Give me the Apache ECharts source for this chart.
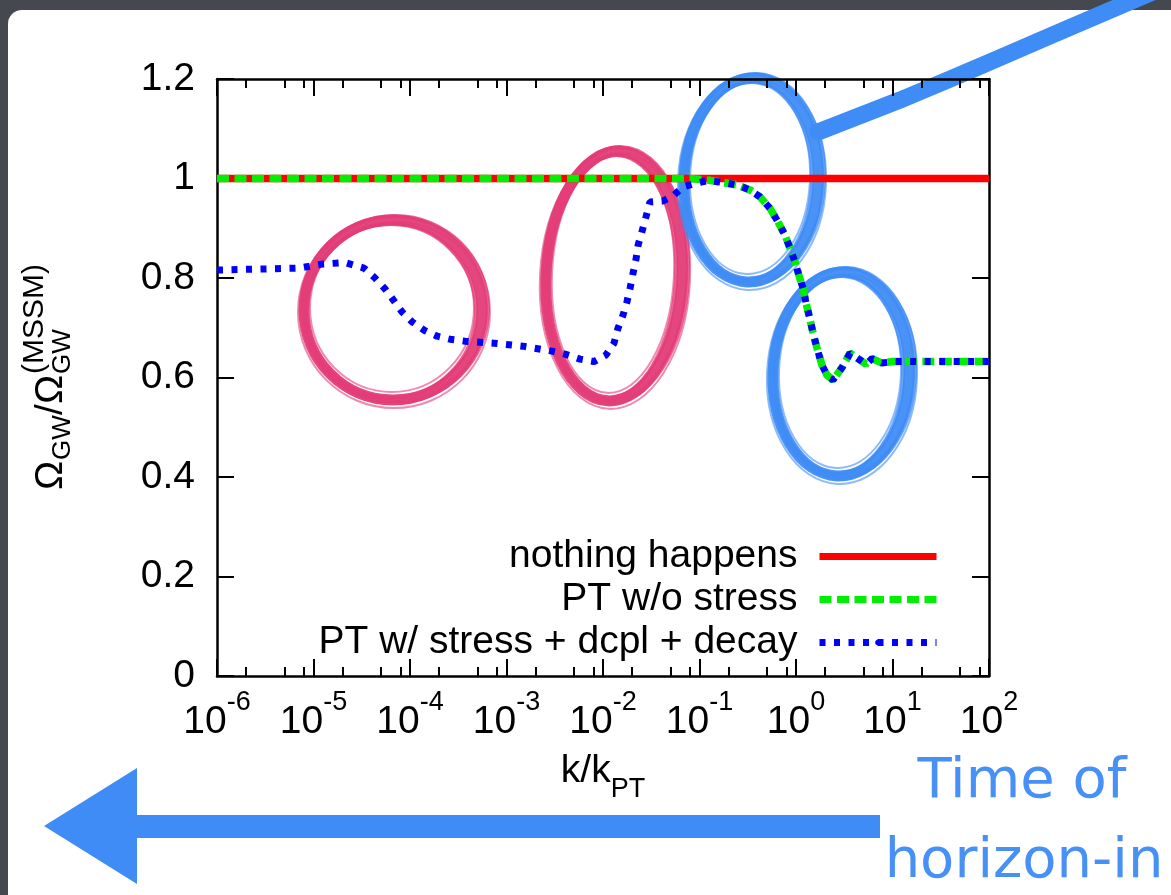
<!DOCTYPE html>
<html>
<head>
<meta charset="utf-8">
<title>Omega_GW / Omega_GW(MSSM) vs k/k_PT</title>
<script src="https://cdn.jsdelivr.net/npm/echarts@6.0.0/dist/echarts.min.js"></script>
<style>
  html, body { margin: 0; padding: 0; background: #45484f; }
  #main { width: 1171px; height: 895px; }
</style>
</head>
<body>
<div id="main"></div>
<script>
var FONT = "'Liberation Sans', Arial, Helvetica, sans-serif";

// k/k_PT and Omega_GW/Omega_GW^(MSSM)
var kRed = [1e-6, 1e2];
var yRed = [1, 1];

var kGreen = [1e-6, 0.08, 0.122, 0.175, 0.245, 0.333, 0.424, 0.538, 0.65, 0.769, 0.867, 0.977,
  1.07, 1.18, 1.27, 1.40, 1.50, 1.65, 1.86, 2.09, 2.42, 3.00, 3.63, 4.39, 5.31, 6.14, 7.78, 10.1, 100];
var yGreen = [1, 1, 0.997, 0.992, 0.987, 0.977, 0.963, 0.94, 0.913, 0.886, 0.86, 0.832,
  0.806, 0.78, 0.75, 0.716, 0.69, 0.659, 0.625, 0.605, 0.595, 0.62, 0.649, 0.638, 0.627, 0.638, 0.629, 0.632, 0.632];

var kBlue = [1e-6, 2.8e-6, 7.2e-6, 1.22e-5, 2.12e-5, 3.33e-5, 4.34e-5, 5.51e-5, 6.82e-5, 8.26e-5,
  1.05e-4, 1.40e-4, 1.91e-4, 2.60e-4, 3.72e-4, 7.41e-4, 1.48e-3, 2.96e-3, 4.04e-3, 5.78e-3,
  8.07e-3, 1.07e-2, 1.30e-2, 1.43e-2, 1.61e-2, 1.77e-2, 1.91e-2, 2.05e-2, 2.20e-2, 2.31e-2,
  2.54e-2, 2.79e-2, 3.07e-2, 4.19e-2, 5.31e-2, 6.75e-2, 8.97e-2, 0.122,
  0.175, 0.245, 0.333, 0.424, 0.538, 0.65, 0.769, 0.867, 0.977, 1.07, 1.18, 1.27, 1.40, 1.50,
  1.65, 1.86, 2.09, 2.42, 3.00, 3.63, 4.39, 5.31, 6.14, 7.78, 10.1, 100];
var yBlue = [0.816, 0.818, 0.820, 0.828, 0.831, 0.820, 0.800, 0.778, 0.754, 0.732,
  0.712, 0.695, 0.683, 0.677, 0.673, 0.669, 0.663, 0.653, 0.647, 0.637,
  0.632, 0.645, 0.669, 0.699, 0.725, 0.752, 0.780, 0.810, 0.838, 0.866,
  0.894, 0.923, 0.953, 0.955, 0.965, 0.983, 0.990, 0.996,
  0.992, 0.987, 0.977, 0.963, 0.94, 0.913, 0.886, 0.86, 0.832, 0.806, 0.78, 0.75, 0.716, 0.69,
  0.659, 0.625, 0.605, 0.595, 0.62, 0.649, 0.638, 0.627, 0.638, 0.629, 0.632, 0.632];

var seriesNames = ['nothing happens', 'PT w/o stress', 'PT w/ stress + dcpl + decay'];

// axis ticks
var xMajorTicks = [1e-6, 1e-5, 1e-4, 1e-3, 1e-2, 1e-1, 1e0, 1e1, 1e2];
var xMinorSteps = [2, 5, 8];
var yTickStep = 0.2;

function pairs(xs, ys) {
  return xs.map(function (x, i) { return [x, ys[i]]; });
}

var xMinorTicks = [];
xMajorTicks.slice(0, -1).forEach(function (d) {
  xMinorSteps.forEach(function (m) { xMinorTicks.push(d * m); });
});

function xLabel(v) {
  return '{b|10}{s|' + Math.round(Math.log10(v)) + '}';
}

var axisLineStyle = { color: '#000', width: 2.5 };

function xAxisOf(position, ticks, tickLen, showLine, withLabels) {
  var ax = {
    type: 'log', logBase: 10, min: 1e-6, max: 1e2,
    position: position, gridIndex: 0,
    axisLine: { show: showLine, lineStyle: axisLineStyle },
    axisTick: { show: true, inside: true, length: tickLen, customValues: ticks,
      lineStyle: { color: '#000', width: 2 } },
    axisLabel: { show: false },
    splitLine: { show: false },
    minorTick: { show: false },
    silent: true
  };
  if (withLabels) {
    ax.axisLabel = {
      show: true, customValues: xMajorTicks, margin: 13, formatter: xLabel,
      rich: {
        b: { fontSize: 39, lineHeight: 66, fontFamily: FONT, color: '#000' },
        s: { fontSize: 27, lineHeight: 27, fontFamily: FONT, color: '#000', verticalAlign: 'top' }
      }
    };
    ax.name = '{k|k/k}{p|PT}';
    ax.nameLocation = 'middle';
    ax.nameGap = 76;
    ax.nameTextStyle = {
      rich: {
        k: { fontSize: 39, lineHeight: 39, fontFamily: FONT, color: '#000', verticalAlign: 'top' },
        p: { fontSize: 27, lineHeight: 27, fontFamily: FONT, color: '#000', verticalAlign: 'top', padding: [24, 0, 0, 0] }
      }
    };
  }
  return ax;
}

function yAxisOf(position, withLabels) {
  return {
    type: 'value', min: 0, max: 1.2, interval: yTickStep,
    position: position, gridIndex: 0,
    axisLine: { show: true, lineStyle: axisLineStyle },
    axisTick: { show: true, inside: true, length: 17, lineStyle: { color: '#000', width: 2 } },
    axisLabel: { show: withLabels, margin: 22, fontSize: 39, fontFamily: FONT, color: '#000' },
    splitLine: { show: false },
    silent: true
  };
}

// hand-drawn marker rings on the slide
function ring(cx, cy, rx, ry, rot, color) {
  var strokes = [
    [0, 0, 0, 0, 11, 0.95],
    [2, -1, 4, 3, 4, 0.8],
    [-2, 1, -4, -3, 4, 0.8],
    [1, 2, 7, 6, 2, 0.6],
    [-1, -2, -7, -6, 2, 0.6],
    [3, 0, 2, -2, 2, 0.5]
  ];
  return strokes.map(function (s) {
    return {
      type: 'ellipse', x: cx + s[0], y: cy + s[1], rotation: rot, z: -5, silent: true,
      shape: { cx: 0, cy: 0, rx: rx + s[2], ry: ry + s[3] },
      style: { fill: 'none', stroke: color, lineWidth: s[4], opacity: s[5] }
    };
  });
}

var PINK = '#e33c77';
var SKY = '#3f8cf6';

var graphics = [
  { type: 'rect', z: -20, silent: true, shape: { x: 8, y: 10, width: 1200, height: 920, r: 14 },
    style: { fill: '#ffffff' } }
]
  .concat(ring(393, 310, 89, 90, 0, PINK))
  .concat(ring(614, 276, 68, 125, -0.05, PINK))
  .concat(ring(751, 180, 67, 102, -0.04, SKY))
  .concat(ring(841, 374, 68, 102, -0.04, SKY))
  .concat([
    { type: 'polyline', z: -5, silent: true,
      shape: { points: [[818, 132], [900, 100], [960, 75], [1050, 36], [1190, -24]] },
      style: { stroke: SKY, lineWidth: 17, fill: 'none', lineCap: 'round' } },
    { type: 'polyline', z: -5, silent: true,
      shape: { points: [[830, 122], [905, 92], [965, 66], [1060, 27], [1190, -30]] },
      style: { stroke: SKY, lineWidth: 5, fill: 'none', opacity: 0.7 } },
    { type: 'rect', z: -5, silent: true, shape: { x: 132, y: 815, width: 748, height: 23 },
      style: { fill: SKY } },
    { type: 'polygon', z: -5, silent: true,
      shape: { points: [[44, 826], [137, 768], [137, 884]] },
      style: { fill: SKY } },
    { type: 'text', z: 10, x: 1022, y: 782, silent: true,
      style: { text: 'Time of', font: '56px "DejaVu Sans"', fill: '#4790f6', align: 'center', verticalAlign: 'middle' } },
    { type: 'text', z: 10, x: 1024, y: 862, silent: true,
      style: { text: 'horizon-in', font: '56px "DejaVu Sans"', fill: '#4790f6', align: 'center', verticalAlign: 'middle' } },
    // y-axis title, rotated
    { type: 'group', x: 65, y: 490, rotation: Math.PI / 2, z: 10, silent: true,
      children: [
        { type: 'text', x: 0, y: -13.6, style: { text: '\u03A9', font: '39px ' + FONT, fill: '#000', verticalAlign: 'middle' } },
        { type: 'text', x: 30, y: -2, style: { text: 'GW', font: '26px ' + FONT, fill: '#000', verticalAlign: 'middle' } },
        { type: 'text', x: 75, y: -13.6, style: { text: '/', font: '39px ' + FONT, fill: '#000', verticalAlign: 'middle' } },
        { type: 'text', x: 86, y: -13.6, style: { text: '\u03A9', font: '39px ' + FONT, fill: '#000', verticalAlign: 'middle' } },
        { type: 'text', x: 116, y: -2, style: { text: 'GW', font: '26px ' + FONT, fill: '#000', verticalAlign: 'middle' } },
        { type: 'text', x: 116, y: -30, style: { text: '(MSSM)', font: '30px ' + FONT, fill: '#000', verticalAlign: 'middle' } }
      ] }
  ]);

var chart = echarts.init(document.getElementById('main'));
chart.setOption({
  backgroundColor: '#45484f',
  animation: false,
  graphic: graphics,
  grid: { left: 217, top: 79, width: 772, height: 597, outerBoundsMode: 'none' },
  legend: {
    orient: 'vertical', align: 'right', right: 231, top: 537, padding: 0,
    itemWidth: 117, itemHeight: 7, itemGap: 4, selectedMode: false,
    data: seriesNames,
    lineStyle: { width: 7 },
    textStyle: { fontSize: 39, fontFamily: FONT, color: '#000', padding: [0, 17, 0, 0] }
  },
  xAxis: [
    xAxisOf('bottom', xMajorTicks, 17, true, true),
    xAxisOf('bottom', xMinorTicks, 9, false, false),
    xAxisOf('top', xMajorTicks, 17, true, false),
    xAxisOf('top', xMinorTicks, 9, false, false)
  ],
  yAxis: [yAxisOf('left', true), yAxisOf('right', false)],
  series: [
    { name: seriesNames[0], type: 'line', data: pairs(kRed, yRed), symbol: 'none', silent: true, z: 2,
      lineStyle: { color: '#ff0000', width: 7.5, cap: 'butt' }, itemStyle: { color: '#ff0000' } },
    { name: seriesNames[1], type: 'line', data: pairs(kGreen, yGreen), symbol: 'none', silent: true, z: 3,
      lineStyle: { color: '#00ee00', width: 7.5, type: [12, 5.5], cap: 'butt' }, itemStyle: { color: '#00ee00' } },
    { name: seriesNames[2], type: 'line', data: pairs(kBlue, yBlue), symbol: 'none', silent: true, z: 4,
      lineStyle: { color: '#0000ff', width: 7, type: [6, 8.5], cap: 'butt' }, itemStyle: { color: '#0000ff' } }
  ]
});
</script>
</body>
</html>
